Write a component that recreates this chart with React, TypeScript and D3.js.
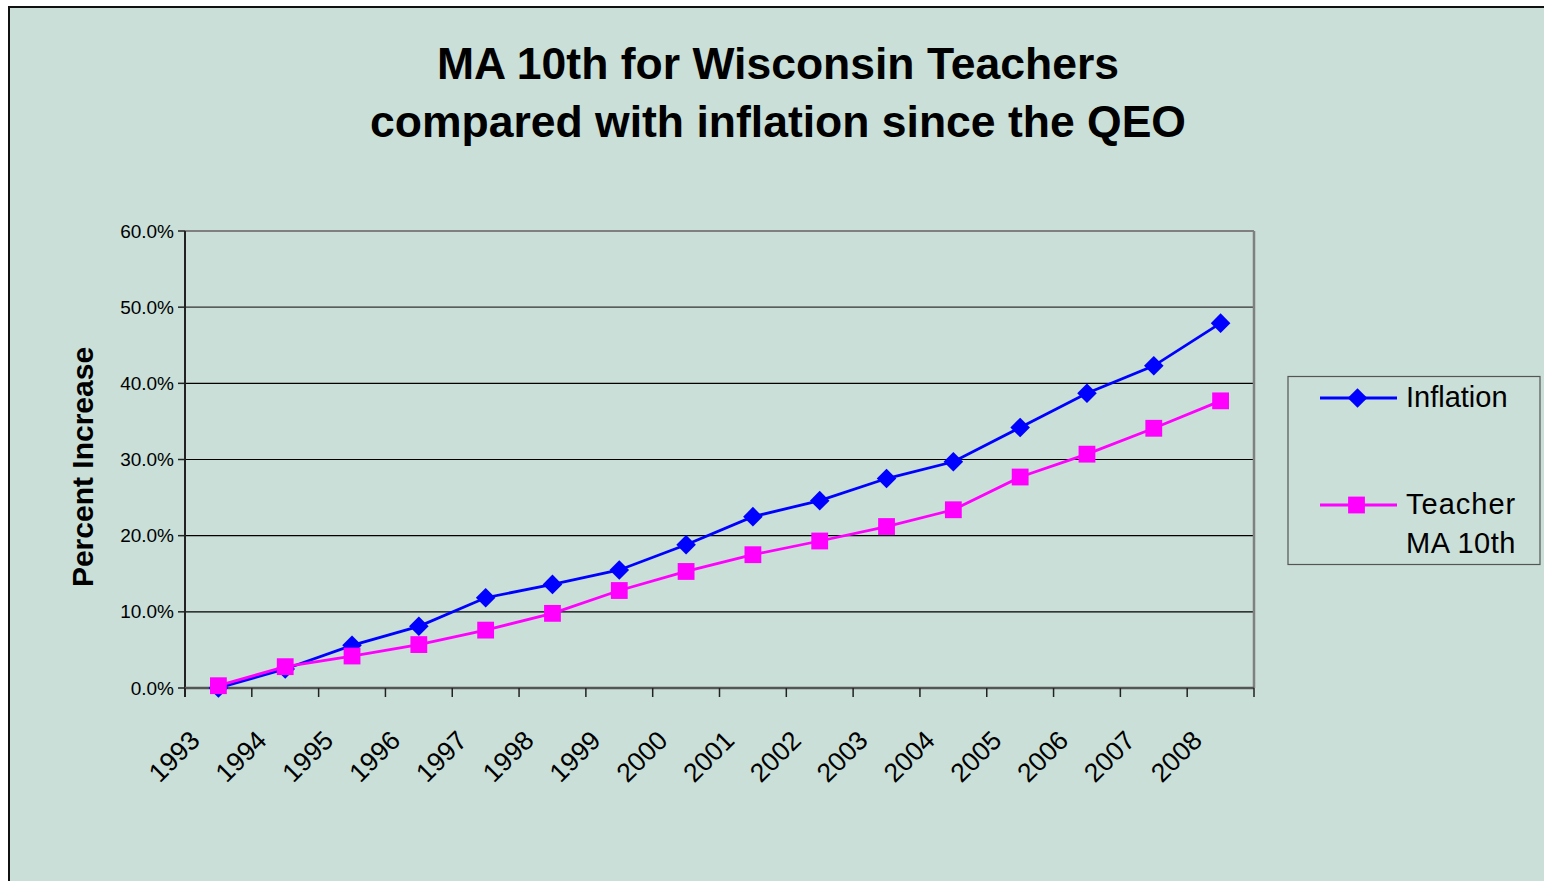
import React from "react";
import * as d3 from "d3";

const years = ["1993","1994","1995","1996","1997","1998","1999","2000","2001","2002","2003","2004","2005","2006","2007","2008"];
const inflation = [0.0, 2.5, 5.6, 8.1, 11.85, 13.6, 15.5, 18.8, 22.5, 24.6, 27.5, 29.7, 34.2, 38.7, 42.3, 47.9];
const teacher = [0.3, 2.8, 4.2, 5.7, 7.6, 9.8, 12.8, 15.3, 17.5, 19.3, 21.2, 23.4, 27.7, 30.7, 34.1, 37.7];
const yTicks = [0, 10, 20, 30, 40, 50, 60];
const titleLines = ["MA 10th for Wisconsin Teachers", "compared with inflation since the QEO"];
const yTitle = "Percent Increase";

const W = 1544, H = 881;
const plot = { left: 185, right: 1254, top: 231, bottom: 688 };
const FONT = "'Liberation Sans', Arial, Helvetica, sans-serif";

export default function App() {
  const x = d3.scaleBand<string>().domain(years).range([plot.left, plot.right]).paddingInner(0).paddingOuter(0);
  const y = d3.scaleLinear().domain([0, 60]).range([plot.bottom, plot.top]);
  const cx = (i: number) => (x(years[i]) as number) + x.bandwidth() / 2;
  const line = d3.line<number>().x((_, i) => cx(i)).y((d) => y(d));
  const bounds = years.map((yr) => x(yr) as number).concat([plot.right]);
  const dSize = 9.8;
  const sSize = 8.4;
  const diamond = (px: number, py: number) => `M${px},${py - dSize}L${px + dSize},${py}L${px},${py + dSize}L${px - dSize},${py}Z`;

  return (
    <svg width={W} height={H} style={{ position: "absolute", left: 0, top: 0 }} fontFamily={FONT}>
      <rect x={0} y={0} width={W} height={H} fill="#ffffff" />
      <rect x={9} y={7} width={W + 20} height={H + 20} fill="#C9DFD8" stroke="#111" strokeWidth={2} />

      {titleLines.map((t, i) => (
        <text key={t} x={778} y={79 + i * 58} textAnchor="middle" fontWeight="bold" fontSize={44.5} fill="#000">{t}</text>
      ))}

      {/* gridlines */}
      {yTicks.filter((t) => t > 0 && t < 60).map((t) => (
        <line key={t} x1={plot.left} x2={plot.right} y1={y(t)} y2={y(t)} stroke={t === 50 ? "#333" : "#000"} strokeWidth={1.2} />
      ))}
      {/* plot border top/right */}
      <line x1={plot.left} x2={plot.right} y1={plot.top} y2={plot.top} stroke="#808080" strokeWidth={2} />
      <line x1={plot.right} x2={plot.right} y1={plot.top} y2={plot.bottom} stroke="#808080" strokeWidth={2.5} />

      {/* y axis */}
      <line x1={plot.left} x2={plot.left} y1={plot.top} y2={plot.bottom + 9} stroke="#222" strokeWidth={2} />
      {yTicks.map((t) => (
        <g key={t}>
          <line x1={plot.left - 7} x2={plot.left} y1={y(t)} y2={y(t)} stroke="#222" strokeWidth={1.5} />
          <text x={174} y={y(t) + 6.5} textAnchor="end" fontSize={19} fill="#000">{t.toFixed(1) + "%"}</text>
        </g>
      ))}

      {/* x axis */}
      <line x1={plot.left} x2={plot.right} y1={plot.bottom} y2={plot.bottom} stroke="#555" strokeWidth={2.5} />
      {bounds.map((b, i) => (
        <line key={i} x1={b} x2={b} y1={plot.bottom} y2={plot.bottom + 9} stroke="#222" strokeWidth={1.5} />
      ))}
      {years.map((yr, i) => (
        <text key={yr} transform={`translate(${cx(i) - 17},${742}) rotate(-45)`} textAnchor="end" fontSize={26.5} fill="#000">{yr}</text>
      ))}

      <text transform={`translate(93,467) rotate(-90)`} textAnchor="middle" fontWeight="bold" fontSize={30} fill="#000">{yTitle}</text>

      {/* series */}
      <path d={line(inflation) || ""} fill="none" stroke="#0000FF" strokeWidth={2.8} />
      {inflation.map((v, i) => (
        <path key={i} d={diamond(cx(i), y(v))} fill="#0000FF" />
      ))}
      <path d={line(teacher) || ""} fill="none" stroke="#FF00FF" strokeWidth={2.8} />
      {teacher.map((v, i) => (
        <rect key={i} x={cx(i) - sSize} y={y(v) - sSize} width={sSize * 2} height={sSize * 2} fill="#FF00FF" />
      ))}

      {/* legend */}
      <rect x={1288} y={376.5} width={252} height={188} fill="none" stroke="#555" strokeWidth={1.2} />
      <line x1={1320} x2={1397} y1={398} y2={398} stroke="#0000FF" strokeWidth={2.8} />
      <path d={diamond(1357.5, 398)} fill="#0000FF" />
      <text x={1406} y={407} fontSize={29} fill="#000">Inflation</text>
      <line x1={1320} x2={1397} y1={505} y2={505} stroke="#FF00FF" strokeWidth={2.8} />
      <rect x={1356.5 - sSize} y={505 - sSize} width={sSize * 2} height={sSize * 2} fill="#FF00FF" />
      <text x={1406} y={514} fontSize={29} letterSpacing={1} fill="#000">Teacher</text>
      <text x={1406} y={553} fontSize={29} letterSpacing={0.5} fill="#000">MA 10th</text>
    </svg>
  );
}
